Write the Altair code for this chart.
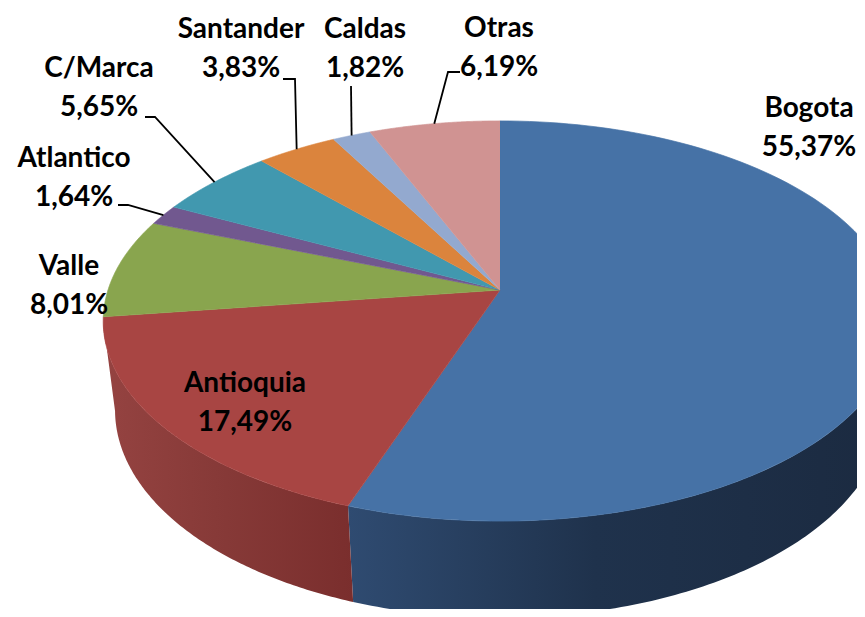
import altair as alt
import numpy as np
import pandas as pd

# ---------------- data ----------------
categories = ["Bogota", "Antioquia", "Valle", "Atlantico", "C/Marca", "Santander", "Caldas", "Otras"]
shares = [55.37, 17.49, 8.01, 1.64, 5.65, 3.83, 1.82, 6.19]

# ---------------- styles ----------------
top_colors = ["#4672A6", "#A84543", "#89A54E", "#71588F", "#4198AF", "#DB843D", "#93A9CF", "#D09392"]
side_light = ["#2F4B71", "#954341", "#6E853D", "#5A4673", "#33798C", "#B06A31", "#7687A6", "#A77675"]
side_mid = ["#1F324C", "#873A38", "#5E7234", "#4C3C62", "#2B6778", "#965A2A", "#65738E", "#8E6463"]
side_dark = ["#1B2A40", "#7A2E2D", "#4F602C", "#3F3252", "#245664", "#7E4B23", "#545F76", "#775453"]

# label layout in reference pixels: (centre x, first-line baseline)
label_pos = {
    "Bogota": (809, 117), "Antioquia": (245, 392), "Valle": (69, 275),
    "Atlantico": (74, 167), "C/Marca": (99, 77), "Santander": (241, 38),
    "Caldas": (365, 38), "Otras": (499, 37),
}
LINE_GAP = 39
leader_pts = {
    "Santander": [(283, 79), (295, 79)],
    "Caldas": [(351, 86)],
    "Otras": [(460, 72), (448, 72)],
    "C/Marca": [(145, 117), (155, 117)],
    "Atlantico": [(118, 205), (128, 205)],
}

# projection of the tilted pie
CX, CY = 500, 290
RX, RY = 392, 195.3
K, M, DEP = 0.155, 0.03, 91.4
N = 120
W, H = 849, 601

xs = alt.Scale(domain=[8, 8 + W], nice=False, zero=False)
ys = alt.Scale(domain=[8, 8 + H], reverse=True, nice=False, zero=False)

frac = np.array(shares) / sum(shares)
end = np.cumsum(frac)
start = end - frac
pie = pd.DataFrame({"cat": categories, "start": start, "end": end})

fR = float(np.arccos(-K) / (2 * np.pi))
fL = 1 - fR

# ---------------- side walls ----------------
layers = []
for i, cat in enumerate(categories):
    grad = alt.Gradient(
        gradient="linear",
        stops=[
            alt.GradientStop(color=side_light[i], offset=0),
            alt.GradientStop(color=side_mid[i], offset=0.45),
            alt.GradientStop(color=side_dark[i], offset=1),
        ],
        x1=0, x2=1, y1=0, y2=0,
    )
    side = (
        alt.Chart(pie)
        .transform_filter(alt.datum.cat == cat)
        .transform_calculate(lo=f"max(datum.start, {fR})", hi=f"min(datum.end, {fL})")
        .transform_filter("datum.lo < datum.hi")
        .transform_calculate(s=f"sequence(0, {2 * N + 2})")
        .transform_flatten(["s"])
        .transform_calculate(
            t=f"datum.s <= {N} ? datum.s/{N} : ({2 * N + 1} - datum.s)/{N}",
            z=f"datum.s <= {N} ? 0 : 1",
        )
        .transform_calculate(th="2*PI*(datum.lo + (datum.hi - datum.lo)*datum.t)")
        .transform_calculate(w=f"1 + {K}*cos(datum.th) + {M}*datum.z")
        .transform_calculate(
            px=f"{CX} + {RX}*sin(datum.th)/datum.w",
            py=f"{CY} + (-{RY}*cos(datum.th) + {DEP}*datum.z)/datum.w",
        )
        .mark_line(fill=grad, strokeWidth=0, clip=True)
        .encode(
            x=alt.X("px:Q", scale=xs, axis=None),
            y=alt.Y("py:Q", scale=ys, axis=None),
            order=alt.Order("s:Q"),
        )
    )
    layers.append(side)

# ---------------- top face ----------------
cscale = alt.Scale(domain=categories, range=top_colors)
top = (
    alt.Chart(pie)
    .transform_calculate(s=f"sequence(-1, {N + 1})")
    .transform_flatten(["s"])
    .transform_calculate(th=f"2*PI*(datum.start + (datum.end - datum.start)*max(datum.s, 0)/{N})")
    .transform_calculate(
        px=f"datum.s < 0 ? {CX} : {CX} + {RX}*sin(datum.th)/(1 + {K}*cos(datum.th))",
        py=f"datum.s < 0 ? {CY} : {CY} - {RY}*cos(datum.th)/(1 + {K}*cos(datum.th))",
    )
    .mark_line(filled=True, strokeWidth=0.7, clip=True)
    .encode(
        x=alt.X("px:Q", scale=xs, axis=None),
        y=alt.Y("py:Q", scale=ys, axis=None),
        fill=alt.Fill("cat:N", scale=cscale, legend=None),
        stroke=alt.Stroke("cat:N", scale=cscale, legend=None),
        detail="cat:N",
        order=alt.Order("s:Q"),
    )
)
layers.append(top)

# ---------------- leader lines ----------------
rows = []
for cat, pts in leader_pts.items():
    for j, (x, y) in enumerate(pts):
        rows.append({"cat": cat, "seq": j, "lx": x, "ly": y, "edge": 0})
    rows.append({"cat": cat, "seq": len(pts), "lx": 0, "ly": 0, "edge": 1})
lead = pd.DataFrame(rows).merge(pie, on="cat")
leaders = (
    alt.Chart(lead)
    .transform_calculate(mth="PI*(datum.start + datum.end)")
    .transform_calculate(
        px=f"datum.edge == 1 ? {CX} + {RX}*sin(datum.mth)/(1 + {K}*cos(datum.mth)) : datum.lx",
        py=f"datum.edge == 1 ? {CY} - {RY}*cos(datum.mth)/(1 + {K}*cos(datum.mth)) : datum.ly",
    )
    .mark_line(color="black", strokeWidth=1.8)
    .encode(
        x=alt.X("px:Q", scale=xs, axis=None),
        y=alt.Y("py:Q", scale=ys, axis=None),
        detail="cat:N",
        order=alt.Order("seq:Q"),
    )
)
layers.append(leaders)

# ---------------- labels ----------------
trows = []
for cat, v in zip(categories, shares):
    x, y = label_pos[cat]
    trows.append({"tx": x, "ty": y, "txt": cat})
    trows.append({"tx": x, "ty": y + LINE_GAP, "txt": f"{v:.2f}".replace(".", ",") + "%"})
texts = (
    alt.Chart(pd.DataFrame(trows))
    .mark_text(font="Lato", fontWeight="bold", fontSize=28, align="center", baseline="alphabetic", color="black")
    .encode(
        x=alt.X("tx:Q", scale=xs, axis=None),
        y=alt.Y("ty:Q", scale=ys, axis=None),
        text="txt:N",
    )
)
layers.append(texts)

chart = (
    alt.layer(*layers)
    .properties(width=W, height=H, padding=0)
    .configure_view(stroke=None)
)
chart.save("out.html", embed_options={"renderer": "svg", "actions": False})
